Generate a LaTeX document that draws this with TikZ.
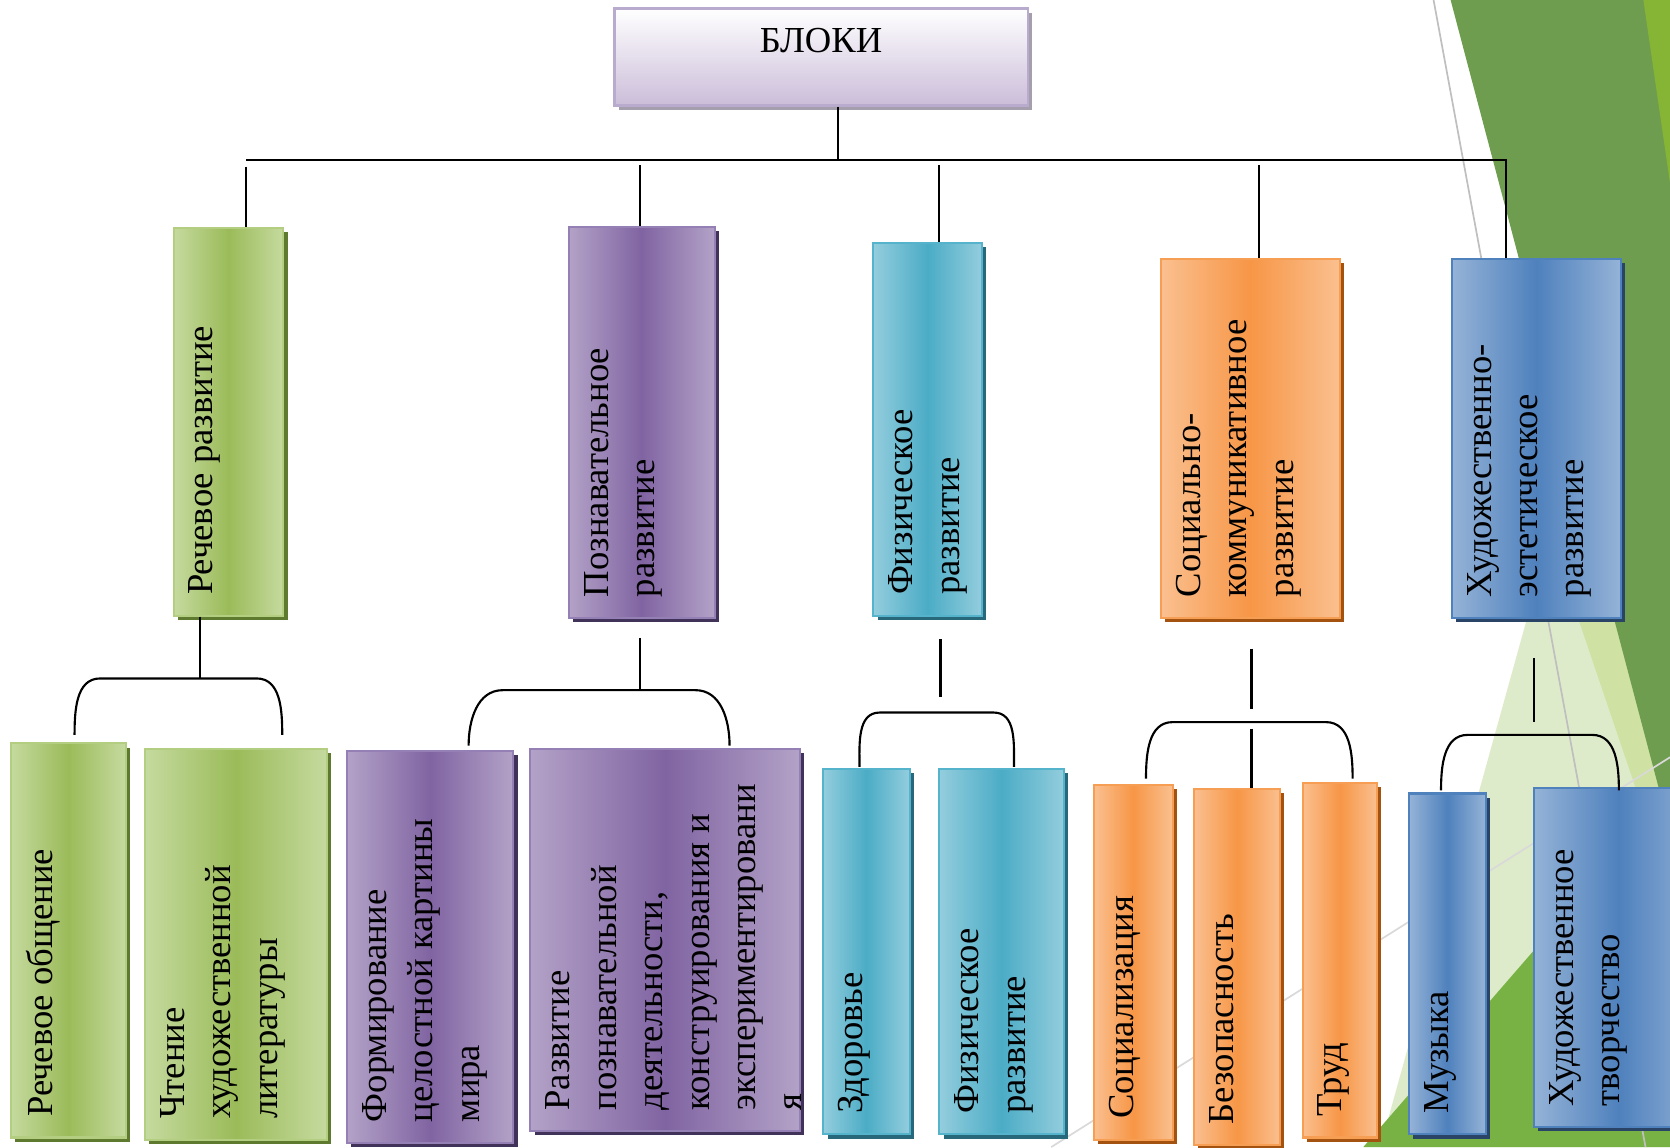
\documentclass[tikz,border=0pt]{standalone}
\usepackage{fontspec}
\setmainfont{Liberation Serif}
\usetikzlibrary{shadows,fit,calc}
\definecolor{gL}{HTML}{C5DA9F}\definecolor{gM}{HTML}{9BBB59}\definecolor{gB}{HTML}{B3CE80}\definecolor{gS}{HTML}{5D7A2E}
\definecolor{pL}{HTML}{B3A2C7}\definecolor{pM}{HTML}{8064A2}\definecolor{pB}{HTML}{9580B5}\definecolor{pS}{HTML}{41325A}
\definecolor{tL}{HTML}{93CDDD}\definecolor{tM}{HTML}{4BACC6}\definecolor{tB}{HTML}{55B3CB}\definecolor{tS}{HTML}{27687A}
\definecolor{oL}{HTML}{FAC090}\definecolor{oM}{HTML}{F79646}\definecolor{oB}{HTML}{F79E55}\definecolor{oS}{HTML}{A3520F}
\definecolor{bL}{HTML}{95B3D7}\definecolor{bM}{HTML}{4F81BD}\definecolor{bB}{HTML}{4F81BD}\definecolor{bS}{HTML}{2A4468}
\definecolor{topB}{HTML}{CBBDD9}\definecolor{topD}{HTML}{B9ABCD}\definecolor{topS}{HTML}{A59FAD}
\definecolor{dkgreen}{HTML}{6F9D4F}\definecolor{lime}{HTML}{86B535}\definecolor{lgfan}{HTML}{DEEBCA}
\definecolor{lgstripe}{HTML}{CFE1A3}\definecolor{brgreen}{HTML}{78B244}
\tikzset{
  blk/.style={rectangle, inner sep=0pt, line width=1pt},
  mkbox/.style n args={4}{blk, draw=#3, left color=#1, right color=#1, middle color=#2,
     drop shadow={shadow xshift=2pt, shadow yshift=-2pt, fill=#4, opacity=1}},
  gbox/.style={mkbox={gL}{gM}{gB}{gS}},
  pbox/.style={mkbox={pL}{pM}{pB}{pS}},
  tbox/.style={mkbox={tL}{tM}{tB}{tS}},
  obox/.style={mkbox={oL}{oM}{oB}{oS}},
  bbox/.style={mkbox={bL}{bM}{bB}{bS}},
  topbox/.style={blk, draw=topD, top color=white, bottom color=topB,
     drop shadow={shadow xshift=2.2pt, shadow yshift=-2.2pt, fill=topS, opacity=1}},
  txtfont/.style={font=\fontsize{17.2}{21.8}\selectfont},
  lbl/.style={txtfont, rotate=90, anchor=north west, inner sep=0pt, align=left},
  conn/.style={line width=1pt, black},
}
\newcommand{\brkt}[5]{\draw[conn] (#1,#4) to[out=90,in=180] ({#1+#5},#3) -- ({#2-#5},#3) to[out=0,in=90] (#2,#4);}
\begin{document}
\begin{tikzpicture}[x=0.5pt,y=-0.5pt]
\useasboundingbox (0,0) rectangle (1568,1077);
% background decoration
\fill[lgfan] (1445,540) -- (1296,1077) -- (1568,1077) -- (1568,540) -- cycle;
\fill[lgstripe] (1468,540) -- (1568,835) -- (1568,540) -- cycle;
\fill[dkgreen] (1362,0) -- (1568,0) -- (1568,780) -- cycle;
\fill[lime] (1543,0) -- (1568,0) -- (1568,172) -- cycle;
\fill[brgreen] (1280,1077) -- (1568,745) -- (1568,1077) -- cycle;
\draw[color=black!25, line width=0.8pt] (1346,0) -- (1545,1077);
\draw[color=black!15, line width=0.8pt] (987,1077) -- (1568,711);

% top box
\node[topbox, fit={(577,8) (965,99)}] (top) {};
\node[txtfont, inner sep=0pt] (topt) at (771,38) {БЛОКИ};

% level 1
\node[gbox, fit={(163,214) (266,578)}] (g0) {};
\node[lbl] (g0t) at ([shift={(15,-20)}]g0.south west) {Речевое развитие};
\node[pbox, fit={(534,213) (671,580)}] (p0) {};
\node[lbl] (p0t) at ([shift={(15,-20)}]p0.south west) {Познавательное\\развитие};
\node[tbox, fit={(820,228) (922,578)}] (t0) {};
\node[lbl] (t0t) at ([shift={(15,-20)}]t0.south west) {Физическое\\развитие};
\node[obox, fit={(1090,243) (1258,580)}] (o0) {};
\node[lbl] (o0t) at ([shift={(15,-20)}]o0.south west) {Социально-\\коммуникативное\\развитие};
\node[bbox, fit={(1363,243) (1522,580)}] (b0) {};
\node[lbl] (b0t) at ([shift={(15,-20)}]b0.south west) {Художественно-\\эстетическое\\развитие};

% level 2
\node[gbox, fit={(10,698) (118,1068)}] (g1) {};
\node[lbl] (g1t) at ([shift={(15,-20)}]g1.south west) {Речевое общение};
\node[gbox, fit={(136,703) (307,1070)}] (g2) {};
\node[lbl] (g2t) at ([shift={(15,-20)}]g2.south west) {Чтение\\художественной\\литературы};
\node[pbox, fit={(326,705) (482,1073)}] (p1) {};
\node[lbl] (p1t) at ([shift={(15,-20)}]p1.south west) {Формирование\\целостной картины\\мира};
\node[pbox, fit={(498,703) (751,1062)}] (p2) {};
\node[lbl] (p2t) at ([shift={(15,-20)}]p2.south west) {Развитие\\познавательной\\деятельности,\\конструирования и\\экспериментировани\\я};
\node[tbox, fit={(773,722) (854,1065)}] (t1) {};
\node[lbl] (t1t) at ([shift={(15,-20)}]t1.south west) {Здоровье};
\node[tbox, fit={(882,722) (999,1065)}] (t2) {};
\node[lbl] (t2t) at ([shift={(15,-20)}]t2.south west) {Физическое\\развитие};
\node[obox, fit={(1027,737) (1101,1070)}] (o1) {};
\node[lbl] (o1t) at ([shift={(15,-20)}]o1.south west) {Социализация};
\node[obox, fit={(1121,741) (1202,1075)}] (o2) {};
\node[lbl] (o2t) at ([shift={(15,-20)}]o2.south west) {Безопасность};
\node[obox, fit={(1223,735) (1293,1068)}] (o3) {};
\node[lbl] (o3t) at ([shift={(15,-20)}]o3.south west) {Труд};
\node[bbox, fit={(1323,745) (1395,1065)}] (b1) {};
\node[lbl] (b1t) at ([shift={(15,-20)}]b1.south west) {Музыка};
\node[bbox, fit={(1440,740) (1600,1058)}] (b2) {};
\node[lbl] (b2t) at ([shift={(15,-20)}]b2.south west) {Художественное\\творчество};

% top connectors
\coordinate (hJ) at (787,150);
\coordinate (hL) at (231,150);
\coordinate (hR) at (1414,150);
\draw[conn] (top.south -| hJ) -- (hJ);
\draw[conn] (hL) -- (hR) -- (hR |- b0.north);
\coordinate (dg) at (231,157); \draw[conn] (dg) -- (dg |- g0.north);
\coordinate (dp) at (601,155); \draw[conn] (dp) -- (dp |- p0.north);
\coordinate (dt) at (882,155); \draw[conn] (dt) -- (dt |- t0.north);
\coordinate (do) at (1182,155); \draw[conn] (do) -- (do |- o0.north);

% second-level connectors
\coordinate (gA) at (188,637); \draw[conn] (gA |- g0.south) -- (gA);
\brkt{70}{265}{637}{690}{24}
\coordinate (pT) at (601,599); \coordinate (pA) at (601,648); \draw[conn] (pT) -- (pA);
\brkt{440}{685}{648}{700}{32}
\coordinate (tT) at (883,600); \coordinate (tA) at (883,654); \draw[conn] (tT) -- (tA);
\brkt{807}{952}{669}{720}{19}
\coordinate (oT) at (1175,609); \coordinate (oA) at (1175,666); \draw[conn] (oT) -- (oA);
\brkt{1076}{1270}{678}{731}{25}
\coordinate (oM) at (1175,684); \draw[conn] (oM) -- (oM |- o2.north);
\coordinate (bT) at (1440,618); \coordinate (bA) at (1440,678); \draw[conn] (bT) -- (bA);
\brkt{1353}{1520}{690}{742}{25}
\end{tikzpicture}
\end{document}
